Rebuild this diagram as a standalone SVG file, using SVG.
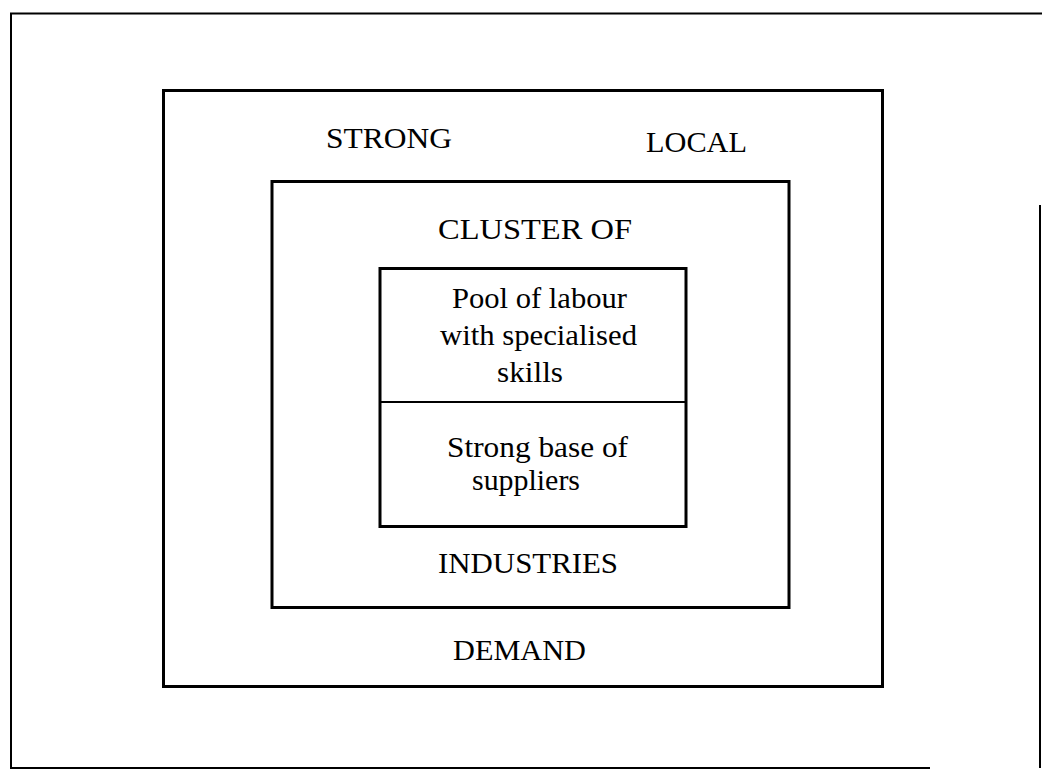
<svg xmlns="http://www.w3.org/2000/svg" width="1042" height="770" viewBox="0 0 1042 770">
<style>
.box{fill:none;stroke:#000;stroke-width:3}
.frame{fill:none;stroke:#000;stroke-width:2}
text{font-family:"Liberation Serif","Times New Roman",serif;font-size:29px;fill:#000}
</style>
<rect width="1042" height="770" fill="#fff"/>
<g id="frame">
<path class="frame" d="M1042 13.5 H11 V768 H930"/>
<path class="frame" d="M1040 205 V768" stroke-width="1.5"/>
</g>
<g id="node-demand">
<rect class="box" x="163.5" y="90.5" width="719" height="596"/>
<text x="326" y="148" textLength="126" lengthAdjust="spacingAndGlyphs">STRONG</text>
<text x="646" y="152" textLength="101" lengthAdjust="spacingAndGlyphs">LOCAL</text>
<text x="453" y="660" textLength="133" lengthAdjust="spacingAndGlyphs">DEMAND</text>
</g>
<g id="node-cluster">
<rect class="box" x="272" y="181.5" width="517" height="426"/>
<text x="438" y="239" textLength="194" lengthAdjust="spacingAndGlyphs">CLUSTER OF</text>
<text x="438" y="573" textLength="180" lengthAdjust="spacingAndGlyphs">INDUSTRIES</text>
</g>
<g id="node-core">
<rect class="box" x="380" y="268.5" width="306" height="258"/>
<text x="452" y="308" textLength="175" lengthAdjust="spacingAndGlyphs">Pool of labour</text>
<text x="440" y="345" textLength="197" lengthAdjust="spacingAndGlyphs">with specialised</text>
<text x="497" y="382" textLength="66" lengthAdjust="spacingAndGlyphs">skills</text>
<text x="447" y="457" textLength="181" lengthAdjust="spacingAndGlyphs">Strong base of</text>
<text x="472" y="490" textLength="108" lengthAdjust="spacingAndGlyphs">suppliers</text>
</g>
<g id="connectors">
<line x1="380" y1="402" x2="686" y2="402" stroke="#000" stroke-width="2"/>
</g>
</svg>
